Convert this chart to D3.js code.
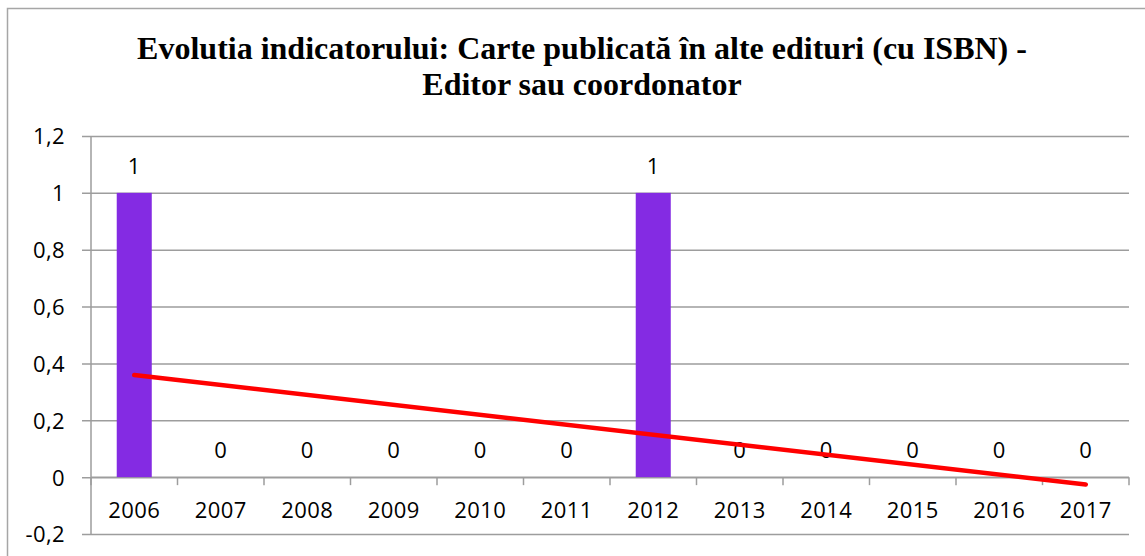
<!DOCTYPE html>
<html>
<head>
<meta charset="utf-8">
<script src="https://cdn.jsdelivr.net/npm/d3@7"></script>
<style>
  html, body { margin: 0; padding: 0; background: #fff; }
  svg { display: block; }
  .lbl { font-family: "Open Sans", sans-serif; font-size: 22px; fill: #000; letter-spacing: 0.4px; }
  .title { font-family: "Liberation Serif", "Times New Roman", serif; font-weight: bold; font-size: 32px; fill: #000; }
</style>
</head>
<body>
<svg id="chart" width="1145" height="556"></svg>
<script>
const titleLines = ["Evolutia indicatorului: Carte publicată în alte edituri (cu ISBN) -", "Editor sau coordonator"];
const years = ["2006","2007","2008","2009","2010","2011","2012","2013","2014","2015","2016","2017"];
const values = [1,0,0,0,0,0,1,0,0,0,0,0];
const yTicks = [-0.2, 0, 0.2, 0.4, 0.6, 0.8, 1, 1.2];

const svg = d3.select("#chart");
const W = 1145, H = 556;
const plot = { left: 91, right: 1129, top: 136, bottom: 534 };
const gridColor = "#9d9d9d";

// outer border (top/left visible, right/bottom run off the image)
svg.append("rect").attr("x", 7.5).attr("y", 8.5).attr("width", W).attr("height", H)
  .attr("fill", "#fff").attr("stroke", "#a6a6a6").attr("stroke-width", 1.5);

// title
svg.append("g").selectAll("text").data(titleLines).join("text")
  .attr("class", "title").attr("x", 582).attr("y", (d, i) => 59 + i * 36)
  .attr("text-anchor", "middle").text(d => d);

const y = d3.scaleLinear().domain([-0.2, 1.2]).range([plot.bottom, plot.top]);
const x = d3.scaleBand().domain(years).range([plot.left, plot.right]).padding(0);
const fmt = v => {
  if (Math.abs(v) < 1e-9) return "0";
  const s = (Math.round(v * 10) / 10).toString();
  return s.replace(".", ",");
};

// gridlines + y labels
const yAxis = d3.axisLeft(y).tickValues(yTicks).tickSize(-(plot.right - plot.left)).tickSizeOuter(0)
  .tickFormat(fmt).tickPadding(26);
const gy = svg.append("g").attr("transform", `translate(${plot.left},0)`).call(yAxis);
gy.select(".domain").remove();
gy.selectAll(".tick line").attr("stroke", gridColor).attr("stroke-width", 1.5)
  .attr("x1", -9).attr("x2", plot.right - plot.left);
gy.selectAll(".tick text").attr("class", "lbl").attr("dy", "0.36em").attr("font-family", null).attr("font-size", null);

// y axis line
svg.append("line").attr("x1", plot.left).attr("x2", plot.left).attr("y1", plot.top).attr("y2", plot.bottom)
  .attr("stroke", gridColor).attr("stroke-width", 1.5);

// x axis at zero
const y0 = y(0);
const xAxis = d3.axisBottom(x).tickSize(0).tickPadding(0);
const gx = svg.append("g").attr("transform", `translate(0,${y0})`).call(xAxis);
gx.select(".domain").attr("stroke", gridColor).attr("stroke-width", 1.5).attr("d", `M${plot.left},0H${plot.right}`);
gx.selectAll(".tick text").attr("class", "lbl").attr("y", 41).attr("dy", null)
  .attr("font-family", null).attr("font-size", null);
// category boundary ticks
const bounds = years.map(d => x(d)).concat([x(years[years.length - 1]) + x.bandwidth()]);
svg.append("g").selectAll("line").data(bounds).join("line")
  .attr("x1", d => d).attr("x2", d => d).attr("y1", y0).attr("y2", y0 + 8)
  .attr("stroke", gridColor).attr("stroke-width", 1.5);

// bars
const barW = x.bandwidth() * 0.405;
svg.append("g").selectAll("rect").data(years.map((d, i) => ({ year: d, v: values[i] })).filter(d => d.v !== 0)).join("rect")
  .attr("x", d => x(d.year) + x.bandwidth() / 2 - barW / 2)
  .attr("width", barW)
  .attr("y", d => y(Math.max(0, d.v)))
  .attr("height", d => Math.abs(y(d.v) - y(0)))
  .attr("fill", "#842BE3");

// data labels
svg.append("g").selectAll("text").data(years.map((d, i) => ({ year: d, v: values[i] }))).join("text")
  .attr("class", "lbl").attr("text-anchor", "middle")
  .attr("x", d => x(d.year) + x.bandwidth() / 2)
  .attr("y", d => y(d.v) - 19)
  .text(d => d.v);

// linear trendline (least squares over category index)
const n = values.length;
const xs = d3.range(1, n + 1);
const mx = d3.mean(xs), my = d3.mean(values);
const slope = d3.sum(xs, (xi, i) => (xi - mx) * (values[i] - my)) / d3.sum(xs, xi => (xi - mx) ** 2);
const icpt = my - slope * mx;
const trend = [1, n].map(k => ({ year: years[k - 1], v: icpt + slope * k }));
svg.append("path").datum(trend)
  .attr("d", d3.line().x(d => x(d.year) + x.bandwidth() / 2).y(d => y(d.v)))
  .attr("fill", "none").attr("stroke", "#ff0000").attr("stroke-width", 4.5).attr("stroke-linecap", "round");
</script>
</body>
</html>
